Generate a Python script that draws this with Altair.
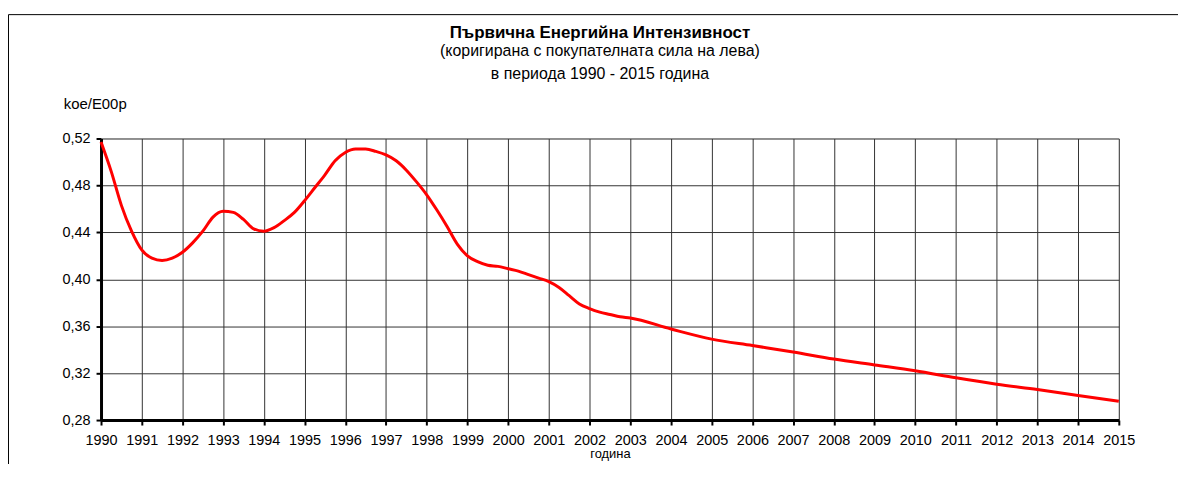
import altair as alt
import pandas as pd

# ---- data ----
years = [1990.0, 1990.25, 1990.5, 1990.75, 1991.0, 1991.25, 1991.5, 1991.75,
         1992.0, 1992.25, 1992.5, 1992.75, 1993.0, 1993.25, 1993.5, 1993.75,
         1994.0, 1994.25, 1994.5, 1994.75, 1995.0, 1995.25, 1995.5, 1995.75,
         1996.0, 1996.25, 1996.5, 1996.75, 1997.0, 1997.25, 1997.5, 1997.75,
         1998.0, 1998.25, 1998.5, 1998.75, 1999.0, 1999.25, 1999.5, 1999.75,
         2000.0, 2000.25, 2000.5, 2000.75, 2001.0, 2001.25, 2001.5, 2001.75,
         2002.0, 2002.25, 2002.5, 2002.75, 2003.0,
         2004.0, 2005.0, 2006.0, 2007.0, 2008.0, 2009.0, 2010.0, 2011.0,
         2012.0, 2013.0, 2014.0, 2015.0]
values = [0.517, 0.492, 0.463, 0.441, 0.425, 0.418, 0.416, 0.418,
          0.423, 0.431, 0.441, 0.453, 0.458, 0.457, 0.451, 0.443,
          0.441, 0.444, 0.450, 0.457, 0.467, 0.478, 0.489, 0.501,
          0.508, 0.511, 0.511, 0.509, 0.506, 0.501, 0.493, 0.483,
          0.472, 0.459, 0.445, 0.430, 0.420, 0.415, 0.412, 0.411,
          0.409, 0.407, 0.404, 0.401, 0.398, 0.393, 0.386, 0.379,
          0.375, 0.372, 0.370, 0.368, 0.367,
          0.3576, 0.349, 0.3435, 0.338, 0.332, 0.327, 0.322, 0.316,
          0.3105, 0.306, 0.301, 0.296]
year_ticks = list(range(1990, 2016))
y_ticks = [0.28, 0.32, 0.36, 0.40, 0.44, 0.48, 0.52]

title_text = "Първична Енергийна Интензивност"
subtitle_lines = ["(коригирана с покупателната сила на лева)",
                  "в периода 1990 - 2015 година"]
y_title = "koe/E00p"
x_title = "година"

FONT = "Liberation Sans"
GRID = "#333333"

df = pd.DataFrame({"year": years, "value": values})

line = alt.Chart(df).mark_line(
    color="#ff0000", strokeWidth=3, interpolate="monotone"
).encode(
    x=alt.X(
        "year:Q",
        scale=alt.Scale(domain=[1990, 2015], nice=False, zero=False),
        axis=alt.Axis(
            values=year_ticks, format="d", title=x_title,
            grid=True, gridColor=GRID, gridWidth=1, gridOpacity=1,
            domainColor="black", domainWidth=3,
            tickColor="black", tickWidth=2, tickSize=5,
            labelFont=FONT, labelFontSize=14.5, labelColor="black",
            labelPadding=9, labelFlush=False, labelOverlap=False,
            titleFont=FONT, titleFontSize=13, titleFontWeight="normal",
            titleColor="black", titleY=34, titleBaseline="middle",
        ),
    ),
    y=alt.Y(
        "value:Q",
        scale=alt.Scale(domain=[0.28, 0.52], nice=False, zero=False),
        axis=alt.Axis(
            values=y_ticks,
            labelExpr="replace(format(datum.value, '.2f'), '.', ',')",
            grid=True, gridColor=GRID, gridWidth=1, gridOpacity=1,
            domainColor="black", domainWidth=3,
            tickColor="black", tickWidth=2, tickSize=5,
            labelFont=FONT, labelFontSize=14.5, labelColor="black",
            labelPadding=6,
            title=y_title, titleAngle=0, titleX=-38, titleY=-35,
            titleAlign="left", titleBaseline="middle",
            titleFont=FONT, titleFontSize=15, titleFontWeight="normal",
            titleColor="black",
        ),
    ),
)

frame = alt.Chart(alt.Data(values=[{"k": 1}])).mark_rect(
    fill="transparent", stroke="black", strokeWidth=1
).encode(
    x=alt.value(-93), x2=alt.value(1300),
    y=alt.value(-124.5), y2=alt.value(700),
)

chart = alt.layer(frame, line).properties(
    width=1023,
    height=283,
    autosize="none",
    padding={"left": 93.5, "top": 130, "right": 59.5, "bottom": 43},
    title=alt.TitleParams(
        text=title_text, subtitle=subtitle_lines,
        font=FONT, fontSize=17, fontWeight="bold", color="black",
        subtitleFont=FONT, subtitleFontSize=16, subtitleColor="black",
        subtitlePadding=1, subtitleLineHeight=23,
        anchor="middle", frame="group", dx=-10, offset=-69,
    ),
).configure_view(stroke=None).configure(background="white")

chart.save("out.html", embed_options={"renderer": "svg", "actions": False})
